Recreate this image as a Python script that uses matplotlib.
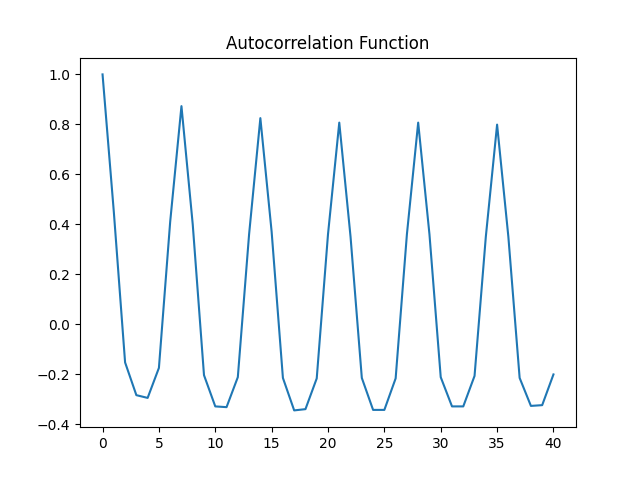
import numpy as np
import matplotlib
matplotlib.use("Agg")
import matplotlib.pyplot as plt

# autocorrelation values, lags 0..40
lags = np.arange(41)
acf = [1.0, 0.45, -0.153, -0.284, -0.295, -0.175, 0.41,
       0.873, 0.40, -0.204, -0.329, -0.332, -0.212, 0.36,
       0.825, 0.37, -0.215, -0.345, -0.340, -0.217, 0.36,
       0.807, 0.35, -0.215, -0.343, -0.343, -0.217, 0.36,
       0.807, 0.36, -0.212, -0.329, -0.329, -0.207, 0.35,
       0.799, 0.35, -0.215, -0.327, -0.324, -0.201]

fig, ax = plt.subplots(figsize=(6.4, 4.8), dpi=100)
ax.plot(lags, acf, color='#1f77b4', linewidth=1.5)
ax.set_title('Autocorrelation Function')

fig.savefig('out.png', dpi=100)
